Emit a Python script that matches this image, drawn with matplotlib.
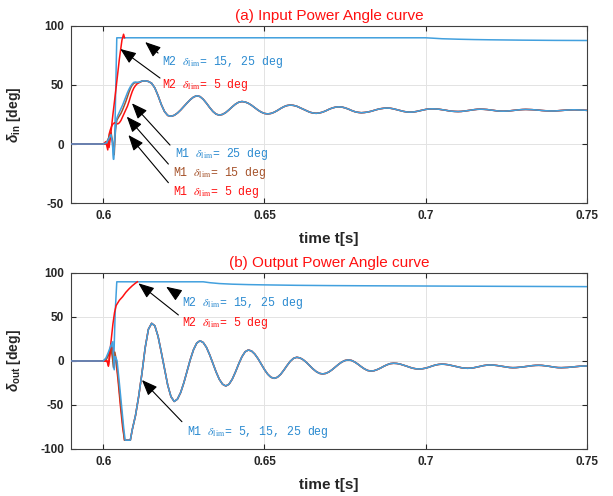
import numpy as np
import matplotlib
matplotlib.use("Agg")
import matplotlib.pyplot as plt

plt.rcParams['font.family'] = ['Liberation Sans', 'DejaVu Sans']
plt.rcParams['mathtext.fontset'] = 'custom'
plt.rcParams['mathtext.rm'] = 'Liberation Sans:bold'
plt.rcParams['mathtext.it'] = 'Liberation Sans:italic:bold'
plt.rcParams['mathtext.bf'] = 'Liberation Sans:bold'

# ---------------- data : panel (a) input power angle ----------------
top_tail_t0 = 0.613
top_m1_tail = [
    53.5, 53.0, 51.5, 47.5, 41.0, 33.5, 27.5, 24.2, 23.5, 24.3,
    26.2, 28.8, 31.8, 34.8, 37.6, 39.8, 40.9, 40.2, 37.9, 34.6,
    30.9, 27.6, 25.3, 24.5, 25.1, 26.7, 29.0, 31.5, 33.8, 35.4,
    36.0, 35.6, 34.5, 32.8, 30.8, 28.7, 27.0, 25.9, 25.5, 25.9,
    26.9, 28.4, 30.1, 31.6, 32.6, 33.0, 32.7, 32.0, 30.8, 29.5,
    28.2, 27.0, 26.3, 26.0, 26.3, 27.0, 28.1, 29.4, 30.5, 31.2,
    31.5, 31.3, 30.6, 29.6, 28.4, 27.4, 26.8, 26.5, 26.7, 27.1,
    27.7, 28.5, 29.3, 29.9, 30.3, 30.5, 30.3, 29.8, 29.1, 28.4,
    27.7, 27.2, 27.0, 27.1, 27.5, 28.1, 28.7, 29.3, 29.7, 29.8,
    29.7, 29.5, 29.1, 28.7, 28.2, 27.8, 27.6, 27.5, 27.6, 27.9,
    28.3, 28.7, 29.1, 29.4, 29.5, 29.4, 29.2, 28.8, 28.5, 28.1,
    27.9, 27.8, 27.9, 28.1, 28.4, 28.7, 29.0, 29.2, 29.3, 29.2,
    29.1, 28.9, 28.7, 28.4, 28.2, 28.1, 28.0, 28.0, 28.2, 28.4,
    28.6, 28.8, 28.9, 29.0, 28.9, 28.8, 28.7, 28.5,
]
top_m1_25_t = [0.590, 0.6000, 0.6010, 0.6018, 0.6024, 0.6028, 0.6032, 0.6036, 0.6040,
               0.6045, 0.6050, 0.6055, 0.6060, 0.6065, 0.6070, 0.6075, 0.6080, 0.6085,
               0.6090, 0.6095, 0.6100, 0.6105, 0.6110, 0.6115, 0.6120, 0.6125]
top_m1_25_v = [0, 0, 1, 5, 8, 2, -13, 5, 20, 24, 27, 30, 33, 36.5, 40, 43.5, 46.5, 49,
               51, 52.3, 52.5, 52.2, 52.3, 52.8, 53.3, 53.5]
top_m1_15_t = [0.590, 0.6000, 0.6010, 0.6018, 0.6024, 0.6030, 0.6034, 0.6038, 0.6042,
               0.6048, 0.6055, 0.6060, 0.6065, 0.6070, 0.6075, 0.6080, 0.6085, 0.6090,
               0.6095, 0.6100, 0.6105, 0.6110, 0.6115, 0.6120, 0.6125]
top_m1_15_v = [0, 0, 1, 6, 10, 0, -9, 12, 20, 23, 26, 29, 32.5, 36, 40, 44, 47.5, 50,
               51.5, 52, 52, 52.2, 52.8, 53.3, 53.5]
top_m1_5_t = [0.590, 0.6000, 0.6008, 0.6014, 0.6018, 0.6022, 0.6026, 0.6030, 0.6035,
              0.6040, 0.6045, 0.6050, 0.6055, 0.6060, 0.6065, 0.6070, 0.6075, 0.6080,
              0.6085, 0.6090, 0.6095, 0.6100, 0.6105, 0.6110, 0.6115, 0.6120, 0.6125]
top_m1_5_v = [0, 0, 2, -5, 8, 12, 15, 17, 18, 17.5, 17, 18, 20, 23, 26, 29, 32, 36,
              40.5, 44.5, 47.5, 49.5, 51, 51.8, 52.5, 53.2, 53.5]
top_m2_hi_t = [0.590, 0.6000, 0.6015, 0.6022, 0.6028, 0.6032, 0.6036, 0.6042, 0.700,
               0.702, 0.705, 0.710, 0.715, 0.720, 0.730, 0.740, 0.750]
top_m2_hi_v = [0, 0, 1, 6, 4, -13, 10, 90, 90, 89.7, 89.2, 88.8, 88.5, 88.3, 88.0, 87.8, 87.7]
top_m2_5_t = [0.590, 0.6000, 0.6012, 0.6018, 0.6022, 0.6030, 0.6040, 0.6050, 0.6058,
              0.6063, 0.6066]
top_m2_5_v = [0, 0, 0, -3, 5, 25, 48, 72, 88, 93, 90]

# ---------------- data : panel (b) output power angle ----------------
bot_tail_t0 = 0.609
bot_m1_tail = [
    -78, -62, -40, -14, 15, 36, 42.8, 40.0, 28.0, 10.0,
    -9.0, -27.5, -40.5, -46.0, -43.4, -35.9, -24.7, -11.5, 1.7, 12.9,
    20.4, 23.0, 21.0, 15.5, 7.1, -2.7, -12.5, -20.9, -26.4, -28.4,
    -26.4, -20.7, -12.5, -3.4, 4.8, 10.5, 12.5, 11.3, 7.8, 2.6,
    -3.6, -9.8, -15.0, -18.5, -19.7, -18.5, -15.2, -10.4, -5.1, -0.3,
    3.0, 4.2, 3.5, 1.4, -1.6, -5.3, -8.9, -11.9, -14.0, -14.7,
    -14.1, -12.4, -9.8, -6.8, -3.7, -1.1, 0.6, 1.2, 0.6, -1.2,
    -3.7, -6.5, -9.0, -10.8, -11.4, -11.0, -9.7, -8.0, -6.0, -4.3,
    -3.0, -2.6, -2.8, -3.5, -4.6, -5.8, -7.1, -8.2, -8.9, -9.1,
    -8.8, -8.1, -7.0, -5.7, -4.6, -3.9, -3.6, -3.8, -4.3, -5.1,
    -6.0, -6.8, -7.6, -8.1, -8.3, -8.1, -7.6, -6.8, -6.0, -5.2,
    -4.7, -4.5, -4.7, -5.1, -5.7, -6.4, -7.0, -7.4, -7.6, -7.5,
    -7.2, -6.8, -6.3, -5.7, -5.3, -5.0, -4.9, -5.0, -5.4, -5.9,
    -6.5, -7.1, -7.5, -7.6, -7.5, -7.3, -7.0, -6.6, -6.2, -5.9,
    -5.7, -5.6,
]
bot_m1_25_t = [0.590, 0.6000, 0.6008, 0.6016, 0.6024, 0.6030, 0.6034, 0.6037, 0.6040,
               0.6043, 0.6050, 0.6057, 0.6064, 0.6068, 0.6084]
bot_m1_25_v = [0, 0, 3, 10, 18, 22, -10, 5, 3, 0, -25, -52, -78, -90, -90]
bot_m1_15_t = [0.590, 0.6000, 0.6010, 0.6018, 0.6024, 0.6028, 0.6032, 0.6036, 0.6040,
               0.6046, 0.6053, 0.6060, 0.6066, 0.6084]
bot_m1_15_v = [0, 0, 2, 8, 15, 5, -7, 10, 2, -18, -45, -70, -90, -90]
bot_m1_5_t = [0.590, 0.6000, 0.6012, 0.6016, 0.6022, 0.6028, 0.6034, 0.6040, 0.6046,
              0.6053, 0.6060, 0.6066, 0.6084]
bot_m1_5_v = [0, 0, 0, -6, 10, 15, 8, -2, -22, -50, -75, -90, -90]
bot_m2_hi_t = [0.590, 0.6000, 0.6012, 0.6020, 0.6027, 0.6032, 0.6037, 0.6042, 0.631,
               0.633, 0.636, 0.640, 0.645, 0.650, 0.660, 0.670, 0.680, 0.700, 0.720, 0.750]
bot_m2_hi_v = [0, 0, 4, 12, 20, -8, 55, 90, 90, 89, 88, 87.3, 86.8, 86.5, 86, 85.7,
               85.5, 85.2, 84.9, 84.5]
bot_m2_5_t = [0.590, 0.6000, 0.6012, 0.6016, 0.6020, 0.6025, 0.6030, 0.6035, 0.6040,
              0.6050, 0.6060, 0.6070, 0.6080, 0.6090, 0.6100, 0.6106]
bot_m2_5_v = [0, 0, 0, -5, 8, 25, 42, 55, 63, 69, 73, 78, 82, 85.5, 88.5, 90]

xticks = [0.6, 0.65, 0.7, 0.75]
xtick_labels = ['0.6', '0.65', '0.7', '0.75']
top_yticks = [-50, 0, 50, 100]
bot_yticks = [-100, -50, 0, 50, 100]

LINE_BLUE = '#42A0DE'
TEXT_BLUE = '#2A8AD0'
RED = '#FF1010'
BROWN = '#A5522A'


def series(tr_t, tr_v, tail_t0=None, tail=None):
    t = np.asarray(tr_t, float)
    v = np.asarray(tr_v, float)
    if tail is not None:
        tt = tail_t0 + 0.001 * np.arange(len(tail))
        t = np.concatenate([t, tt])
        v = np.concatenate([v, np.asarray(tail, float)])
    return t, v


fig = plt.figure(figsize=(6.13, 4.96), dpi=100)
ax1 = fig.add_axes([0.1158, 0.5907, 0.8418, 0.3569])
ax2 = fig.add_axes([0.1158, 0.0948, 0.8418, 0.3548])

lw = 1.1
# panel a
ax1.plot(*series(top_m2_hi_t, top_m2_hi_v), color=LINE_BLUE, lw=lw, zorder=3)
ax1.plot(*series(top_m2_5_t, top_m2_5_v), color=RED, lw=lw, zorder=4)
ax1.plot(*series(top_m1_5_t, top_m1_5_v, top_tail_t0, top_m1_tail), color=RED, lw=lw, zorder=3)
ax1.plot(*series(top_m1_15_t, top_m1_15_v, top_tail_t0, top_m1_tail), color=BROWN, lw=lw, zorder=3)
ax1.plot(*series(top_m1_25_t, top_m1_25_v, top_tail_t0, top_m1_tail), color=LINE_BLUE, lw=lw, zorder=4)
# panel b
ax2.plot(*series(bot_m2_hi_t, bot_m2_hi_v), color=LINE_BLUE, lw=lw, zorder=3)
ax2.plot(*series(bot_m2_5_t, bot_m2_5_v), color=RED, lw=lw, zorder=4)
ax2.plot(*series(bot_m1_5_t, bot_m1_5_v, bot_tail_t0, bot_m1_tail), color=RED, lw=lw, zorder=3)
ax2.plot(*series(bot_m1_15_t, bot_m1_15_v, bot_tail_t0, bot_m1_tail), color=BROWN, lw=lw, zorder=3)
ax2.plot(*series(bot_m1_25_t, bot_m1_25_v, bot_tail_t0, bot_m1_tail), color=LINE_BLUE, lw=lw, zorder=4)

for ax, yt, ylim, ylab, ttl in [
        (ax1, top_yticks, (-50, 100), r'$\delta_{\rm in}$ [deg]', '(a) Input Power Angle curve'),
        (ax2, bot_yticks, (-100, 100), r'$\delta_{\rm out}$ [deg]', '(b) Output Power Angle curve')]:
    ax.set_xlim(0.59, 0.75)
    ax.set_ylim(*ylim)
    ax.set_xticks(xticks)
    ax.set_xticklabels(xtick_labels)
    ax.set_yticks(yt)
    ax.set_yticklabels([str(v) for v in yt])
    ax.grid(True, color='#E3E3E3', lw=0.7)
    ax.set_axisbelow(True)
    ax.tick_params(direction='in', length=3.5, width=0.8, top=True, right=True,
                   colors='#262626', labelsize=8.5, pad=5)
    for lab in ax.get_xticklabels() + ax.get_yticklabels():
        lab.set_fontweight('bold')
    for sp in ax.spines.values():
        sp.set_color('#404040')
        sp.set_linewidth(0.8)
    ax.set_xlabel('time t[s]', fontsize=11, fontweight='bold', color='#262626')
    ax.xaxis.set_label_coords(0.5, -0.165)
    ax.set_ylabel(ylab, fontsize=10, fontweight='bold', color='#262626')
    ax.yaxis.set_label_coords(-0.093, 0.5)
    ax.set_title(ttl, color=RED, fontsize=11, pad=4)

ann_kw = dict(fontsize=8.3, family=['Liberation Mono', 'DejaVu Sans Mono'], math_fontfamily='stix',
              va='center', ha='left')
arrow = dict(arrowstyle='-|>,head_length=0.8,head_width=0.32', color='k', lw=0.8,
             shrinkA=0, shrinkB=0, mutation_scale=12)


def note(ax, head, tail):
    ax.annotate('', xy=head, xytext=tail, arrowprops=arrow, zorder=6)


# panel a annotations
note(ax1, (0.6130, 86.4), (0.6170, 77.1))
note(ax1, (0.6053, 80.5), (0.6176, 55.9))
ax1.text(0.6183, 69.5, r'M2 $\delta_{\rm lim}$= 15, 25 deg', color=TEXT_BLUE, **ann_kw)
ax1.text(0.6183, 50.0, r'M2 $\delta_{\rm lim}$= 5 deg', color=RED, **ann_kw)
note(ax1, (0.6089, 34.5), (0.6207, -0.9))
note(ax1, (0.6073, 23.2), (0.6202, -17.0))
note(ax1, (0.6078, 7.6), (0.6202, -32.8))
ax1.text(0.6222, -8.5, r'M1 $\delta_{\rm lim}$= 25 deg', color=TEXT_BLUE, **ann_kw)
ax1.text(0.6217, -24.8, r'M1 $\delta_{\rm lim}$= 15 deg', color=BROWN, **ann_kw)
ax1.text(0.6217, -40.4, r'M1 $\delta_{\rm lim}$= 5 deg', color=RED, **ann_kw)

# panel b annotations
note(ax2, (0.6195, 84.4), (0.6233, 75.0))
note(ax2, (0.6109, 88.3), (0.6233, 52.3))
ax2.text(0.6244, 65.6, r'M2 $\delta_{\rm lim}$= 15, 25 deg', color=TEXT_BLUE, **ann_kw)
ax2.text(0.6244, 42.8, r'M2 $\delta_{\rm lim}$= 5 deg', color=RED, **ann_kw)
note(ax2, (0.6120, -21.6), (0.6244, -69.0))
ax2.text(0.6259, -80.3, r'M1 $\delta_{\rm lim}$= 5, 15, 25 deg', color=TEXT_BLUE, **ann_kw)

fig.savefig('out.png', dpi=100)
